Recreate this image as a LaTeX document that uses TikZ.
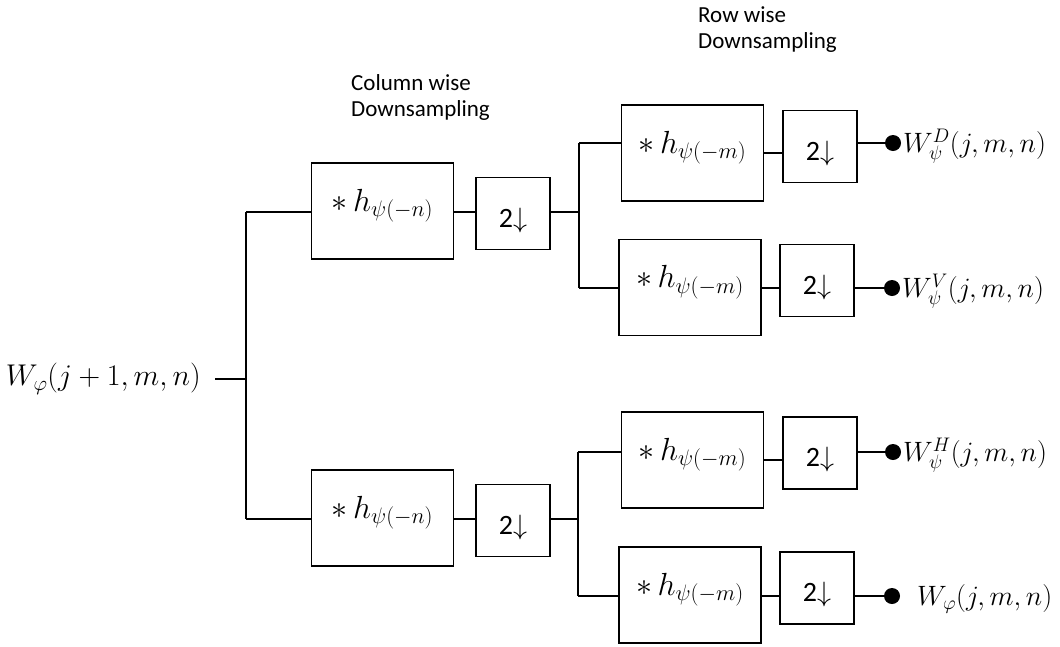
\RequirePackage{fix-cm}
\documentclass[tikz,border=0pt]{standalone}
\usepackage{fontspec}
\setmainfont{Carlito}
\tikzset{
  ln/.style={line width=1.5pt},
  fbox/.style={draw, line width=1.5pt, minimum width=142pt, minimum height=96pt, inner sep=0pt, text height=11pt, text depth=11pt, font=\fontsize{32}{34}\selectfont},
  dbox/.style={draw, line width=1.5pt, minimum width=74pt, minimum height=72pt, inner sep=0pt, text height=27pt, text depth=0pt, font=\fontsize{28}{30}\selectfont},
  dot/.style={circle, fill=black, inner sep=0pt, minimum size=16pt},
  mtxt/.style={inner sep=0pt, font=\fontsize{28}{30}\selectfont},
  itxt/.style={inner sep=0pt, font=\fontsize{30}{32}\selectfont},
  lbl/.style={inner sep=0pt, anchor=base west, font=\fontsize{23}{26}\selectfont}
}
\begin{document}
\begin{tikzpicture}[x=1pt,y=-1pt]
\useasboundingbox (0,0) rectangle (1060,646);
% labels
\node[lbl] (c1) at (351,90) {Column wise};
\node[lbl] (c2) at (351,116) {Downsampling};
\node[lbl] (r1) at (698,22) {Row wise};
\node[lbl] (r2) at (698,48) {Downsampling};
% input
\node[itxt, anchor=east, inner xsep=14pt] (in) at (215,379) {$W_{\varphi}(j+1,m,n)$};
\coordinate (t0) at (246,379);
\coordinate (tU) at (246,212);
\coordinate (tL) at (246,519);
% column stage
\node[fbox] (cu) at (382.5,211) {$\ast\, h_{\psi(-n)}$};
\node[dbox] (du) at (513,213.5) {2$\downarrow$};
\node[fbox] (cl) at (382.5,518) {$\ast\, h_{\psi(-n)}$};
\node[dbox] (dl) at (513,520.5) {2$\downarrow$};
\coordinate (bU) at (579,212);
\coordinate (bUt) at (579,143);
\coordinate (bUb) at (579,288);
\coordinate (bL) at (578,519);
\coordinate (bLt) at (578,452);
\coordinate (bLb) at (578,596);
% row stage
\node[fbox] (rD) at (692.5,153) {$\ast\, h_{\psi(-m)}$};
\node[dbox] (dD) at (820,146.5) {2$\downarrow$};
\node[fbox] (rV) at (690,287.5) {$\ast\, h_{\psi(-m)}$};
\node[dbox] (dV) at (817,280.5) {2$\downarrow$};
\node[fbox] (rH) at (692.5,460) {$\ast\, h_{\psi(-m)}$};
\node[dbox] (dH) at (820,453) {2$\downarrow$};
\node[fbox] (rA) at (690,595) {$\ast\, h_{\psi(-m)}$};
\node[dbox] (dA) at (817,588) {2$\downarrow$};
% dots and outputs
\node[dot] (pD) at (893,143) {};
\node[dot] (pV) at (892,288) {};
\node[dot] (pH) at (893,452) {};
\node[dot] (pA) at (892,596) {};
\node[mtxt, anchor=west] (oD) at (903,146) {$W_{\psi}^{D}(j,m,n)$};
\node[mtxt, anchor=west] (oV) at (902,291) {$W_{\psi}^{V}(j,m,n)$};
\node[mtxt, anchor=west] (oH) at (903,455) {$W_{\psi}^{H}(j,m,n)$};
\node[mtxt, anchor=west] (oA) at (917,599) {$W_{\varphi}(j,m,n)$};
% connectors
\draw[ln] (in.east) -- (t0);
\draw[ln] (tU) -- (tL);
\draw[ln] (tU) -- (cu.west |- tU);
\draw[ln] (tL) -- (cl.west |- tL);
\draw[ln] (cu.east |- tU) -- (du.west |- tU);
\draw[ln] (cl.east |- tL) -- (dl.west |- tL);
\draw[ln] (du.east |- bU) -- (bU);
\draw[ln] (dl.east |- bL) -- (bL);
\draw[ln] (bUt) -- (bUb);
\draw[ln] (bLt) -- (bLb);
\draw[ln] (bUt) -- (rD.west |- bUt);
\draw[ln] (bUb) -- (rV.west |- bUb);
\draw[ln] (bLt) -- (rH.west |- bLt);
\draw[ln] (bLb) -- (rA.west |- bLb);
\draw[ln] (rD.east) -- (dD.west |- rD.east);
\draw[ln] (rV.east |- pV) -- (dV.west |- pV);
\draw[ln] (rH.east) -- (dH.west |- rH.east);
\draw[ln] (rA.east |- pA) -- (dA.west |- pA);
\draw[ln] (dD.east |- pD) -- (pD);
\draw[ln] (dV.east |- pV) -- (pV);
\draw[ln] (dH.east |- pH) -- (pH);
\draw[ln] (dA.east |- pA) -- (pA);
\end{tikzpicture}
\end{document}
